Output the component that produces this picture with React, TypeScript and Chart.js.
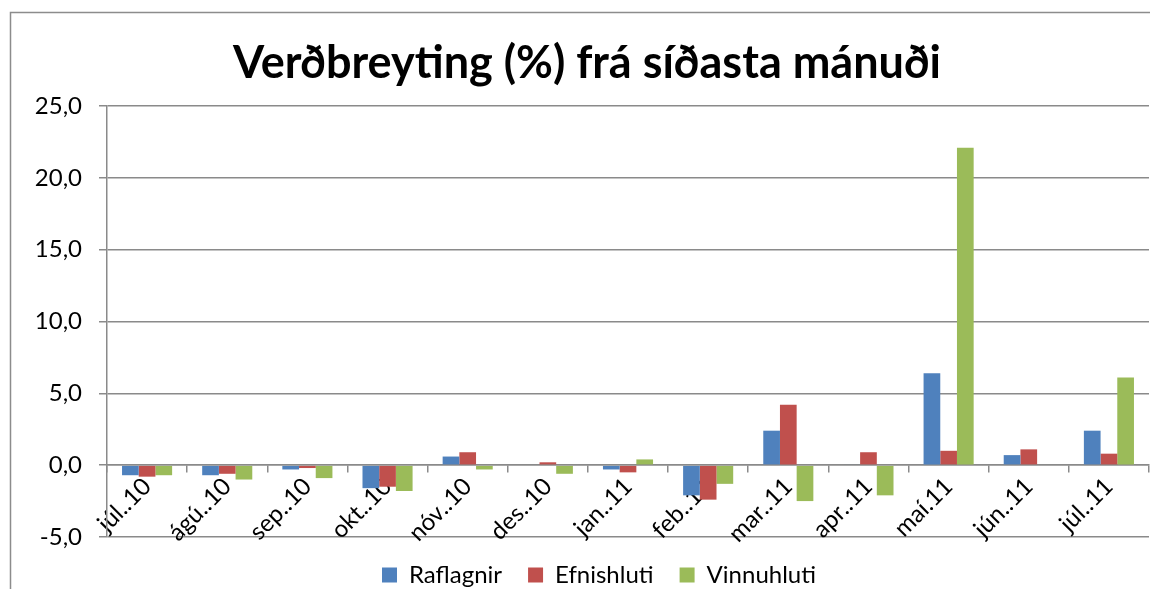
import { useEffect, useRef } from 'react';
import { Chart, registerables } from 'chart.js';

Chart.register(...registerables);

const chartTitle = 'Verðbreyting (%) frá síðasta mánuði';
const categories = ['júl..10', 'ágú..10', 'sep..10', 'okt..10', 'nóv..10', 'des..10', 'jan..11', 'feb..11', 'mar..11', 'apr..11', 'maí.11', 'jún..11', 'júl..11'];
const raflagnir = [-0.7, -0.7, -0.3, -1.6, 0.6, 0, -0.3, -2.1, 2.4, 0.05, 6.4, 0.7, 2.4];
const efnishluti = [-0.8, -0.6, -0.2, -1.5, 0.9, 0.2, -0.5, -2.4, 4.2, 0.9, 1.0, 1.1, 0.8];
const vinnuhluti = [-0.7, -1.0, -0.9, -1.8, -0.3, -0.6, 0.4, -1.3, -2.5, -2.1, 22.1, 0, 6.1];
const seriesNames = ['Raflagnir', 'Efnishluti', 'Vinnuhluti'];
const yMin = -5;
const yMax = 25;
const yStep = 5;

const FONT = 'Lato, "Open Sans", sans-serif';
const GRID = '#8a8a8a';

export default function App() {
  const ref = useRef<HTMLCanvasElement>(null);

  useEffect(() => {
    const framePlugin = {
      id: 'frame',
      beforeDraw(chart: any) {
        const ctx = chart.ctx;
        ctx.save();
        ctx.fillStyle = '#ffffff';
        ctx.fillRect(0, 0, chart.width, chart.height);
        ctx.strokeStyle = '#8c8c8c';
        ctx.lineWidth = 1.5;
        ctx.strokeRect(10.5, 12.5, 1200, 700);
        ctx.restore();
      },
      afterDraw(chart: any) {
        const ctx = chart.ctx;
        ctx.save();
        ctx.fillStyle = '#000000';
        ctx.font = `bold 45px ${FONT}`;
        ctx.textAlign = 'center';
        ctx.textBaseline = 'alphabetic';
        ctx.fillText(chartTitle, 587, 78);
        ctx.restore();
      },
    };

    const chart = new Chart(ref.current!, {
      type: 'bar',
      data: {
        labels: categories,
        datasets: [
          { label: seriesNames[0], data: raflagnir, backgroundColor: '#4F81BD' },
          { label: seriesNames[1], data: efnishluti, backgroundColor: '#C0504D' },
          { label: seriesNames[2], data: vinnuhluti, backgroundColor: '#9BBB59' },
        ],
      },
      options: {
        animation: false,
        responsive: false,
        devicePixelRatio: 1,
        datasets: {
          bar: { categoryPercentage: 0.625, barPercentage: 1.0, borderWidth: 0 },
        },
        layout: { padding: { left: 20, right: 12, top: 106, bottom: 3 } },
        plugins: {
          title: { display: false },
          tooltip: { enabled: false },
          legend: {
            position: 'bottom',
            labels: {
              font: { family: FONT, size: 24 },
              color: '#000',
              boxWidth: 15,
              boxHeight: 15,
              padding: 26,
            },
          },
        },
        scales: {
          x: {
            position: { y: 0 } as any,
            grid: { drawOnChartArea: false, drawTicks: true, tickLength: 7, color: GRID, lineWidth: 1.5, offset: true },
            border: { display: true, color: GRID, width: 1.5 },
            ticks: {
              font: { family: FONT, size: 24 },
              color: '#000',
              minRotation: 45,
              maxRotation: 45,
              autoSkip: false,
              padding: 0,
            },
          },
          y: {
            min: yMin,
            max: yMax,
            afterFit(scale: any) { scale.width = 87; },
            grid: { color: GRID, lineWidth: 1.5, tickLength: 8 },
            border: { display: true, color: GRID, width: 1.5 },
            ticks: {
              stepSize: yStep,
              padding: 17,
              font: { family: FONT, size: 24 },
              color: '#000',
              callback: (v: any) => Number(v).toFixed(1).replace('.', ','),
            },
          },
          y2: {
            type: 'linear',
            position: 'right',
            display: true,
            afterFit(scale: any) { scale.width = 29; },
            grid: { display: false },
            border: { display: false },
            ticks: { display: false },
          },
        },
      },
      plugins: [framePlugin],
    });
    return () => chart.destroy();
  }, []);

  return (
    <div style={{ position: 'fixed', left: 0, top: 0, width: 1150, height: 589, overflow: 'hidden', background: '#fff' }}>
      <canvas ref={ref} width={1190} height={600} style={{ display: 'block', width: 1190, height: 600 }} />
    </div>
  );
}
